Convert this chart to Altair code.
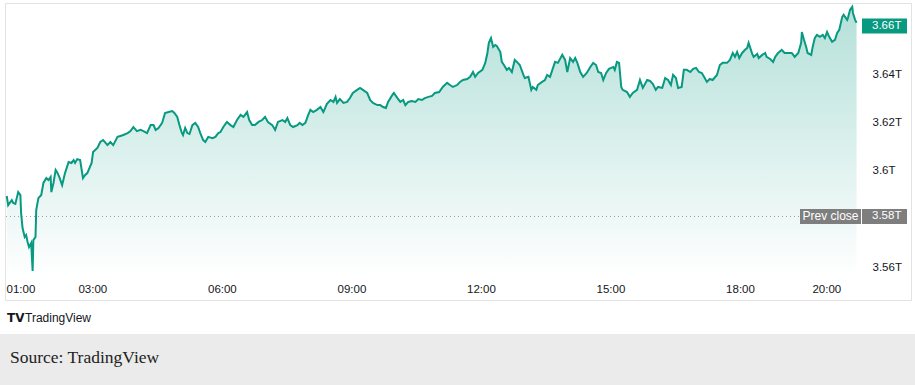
import altair as alt
import pandas as pd

minute_of_day = [
    61, 63, 68, 70, 73, 77, 80, 81, 83, 86, 88, 90, 92, 95, 97, 98, 101, 102, 105, 109,
    112, 116, 119, 122, 123, 126, 129, 131, 134, 138, 142, 147, 151, 154, 156, 159, 163, 167, 170, 173,
    179, 181, 187, 191, 195, 201,
    205, 209, 215, 219, 223, 229, 233, 237, 242, 247, 251, 256, 261, 265, 268, 272, 277, 281, 286, 291,
    294, 298, 301, 304, 306, 309, 312, 315, 319, 323, 327, 330, 334, 337, 341, 347, 351,
    355, 358, 362, 367, 372, 376, 381, 386, 390, 395, 398, 402, 406, 411, 416, 420, 424, 430, 434, 438,
    444, 448, 451, 455, 459, 465, 468, 472, 476, 480, 483, 487, 492, 497, 501, 506,
    511, 515, 518, 520, 524, 529, 534, 538, 542, 548, 552, 556, 562, 566, 570, 576, 580, 584, 588, 591,
    597, 599, 604, 608, 612, 615, 619, 624, 629, 633, 638, 642, 647, 652, 656,
    662, 667, 673, 677, 681, 687, 691, 695, 701, 705, 709, 712, 716, 722, 726, 729, 731, 734, 737, 740,
    742, 747, 749, 752, 756, 759, 763, 767, 770, 774, 779, 781, 786, 790, 792, 797, 799, 805, 809,
    812, 816, 823, 827, 833, 837, 840, 844, 848, 851, 854, 858, 862, 867, 872, 876, 880, 883, 887, 890,
    894, 898, 904, 906, 909, 912, 915, 917, 923, 927, 931, 937, 941, 945, 951, 955,
    959, 963, 966, 972, 976, 980, 984, 987, 991, 994, 999, 1002, 1006, 1011, 1015, 1019, 1023, 1027, 1031, 1034,
    1038, 1042, 1048, 1052, 1056, 1062, 1066, 1070, 1073, 1076, 1079, 1083, 1087, 1090, 1092, 1097, 1099, 1104, 1106,
    1111, 1115, 1117, 1122, 1126, 1129, 1133, 1138, 1142, 1147, 1152, 1156, 1161, 1165, 1166, 1169, 1172, 1174, 1179, 1181,
    1184, 1187, 1191, 1195, 1198, 1201, 1204, 1208, 1212, 1215, 1218, 1222, 1224, 1229, 1230, 1233, 1236, 1237, 1240, 1242,
]

# market value in trillions
value_t = [
    3.5895, 3.5857, 3.5878, 3.5866, 3.5862, 3.5911, 3.5899, 3.5824, 3.5762, 3.5725,
    3.5733, 3.5704, 3.5683, 3.5700, 3.5584, 3.5712, 3.5725, 3.5837, 3.5886, 3.5899,
    3.5949, 3.5969, 3.5961, 3.5974, 3.5911, 3.5949, 3.6003, 3.5994, 3.5974, 3.5940,
    3.5990, 3.6036, 3.6032, 3.6044, 3.6032, 3.6048, 3.6044, 3.5969, 3.5982, 3.5990,
    3.6032, 3.6077, 3.6094, 3.6119, 3.6127, 3.6106,
    3.6119, 3.6106, 3.6140, 3.6144, 3.6148, 3.6156, 3.6164, 3.6181, 3.6164, 3.6169,
    3.6164, 3.6156, 3.6189, 3.6189, 3.6169, 3.6177, 3.6198, 3.6239, 3.6243, 3.6247,
    3.6239, 3.6223, 3.6189, 3.6160, 3.6148, 3.6177, 3.6156, 3.6152, 3.6189, 3.6198,
    3.6181, 3.6156, 3.6127, 3.6119, 3.6140, 3.6135, 3.6140,
    3.6156, 3.6160, 3.6181, 3.6202, 3.6189, 3.6181, 3.6210, 3.6231, 3.6223, 3.6243,
    3.6210, 3.6189, 3.6189, 3.6202, 3.6210, 3.6223, 3.6202, 3.6189, 3.6169, 3.6202,
    3.6210, 3.6202, 3.6218, 3.6189, 3.6181, 3.6189, 3.6198, 3.6189, 3.6198, 3.6231,
    3.6252, 3.6243, 3.6252, 3.6264, 3.6243, 3.6277,
    3.6293, 3.6285, 3.6306, 3.6281, 3.6297, 3.6281, 3.6285, 3.6301, 3.6322, 3.6335,
    3.6343, 3.6335, 3.6322, 3.6293, 3.6281, 3.6272, 3.6272, 3.6264, 3.6260, 3.6285,
    3.6314, 3.6322, 3.6301, 3.6285, 3.6293, 3.6272, 3.6285, 3.6289, 3.6285, 3.6297,
    3.6293, 3.6301, 3.6306, 3.6310, 3.6322,
    3.6326, 3.6347, 3.6364, 3.6355, 3.6347, 3.6355, 3.6368, 3.6376, 3.6380, 3.6389,
    3.6409, 3.6389, 3.6405, 3.6418, 3.6447, 3.6488, 3.6530, 3.6550, 3.6513, 3.6521,
    3.6517, 3.6492, 3.6451, 3.6438, 3.6418, 3.6426, 3.6409, 3.6459, 3.6451, 3.6438,
    3.6397, 3.6384, 3.6389, 3.6335, 3.6347, 3.6335, 3.6355, 3.6368, 3.6376,
    3.6397, 3.6389, 3.6451, 3.6447, 3.6480, 3.6459, 3.6409, 3.6467, 3.6451, 3.6467,
    3.6447, 3.6409, 3.6389, 3.6405, 3.6430, 3.6447, 3.6438, 3.6409, 3.6405, 3.6376,
    3.6405, 3.6422, 3.6430, 3.6418, 3.6451, 3.6447, 3.6347, 3.6335, 3.6326, 3.6306,
    3.6322, 3.6335, 3.6376, 3.6343, 3.6376, 3.6372,
    3.6359, 3.6335, 3.6347, 3.6343, 3.6384, 3.6376, 3.6355, 3.6397, 3.6384, 3.6343,
    3.6347, 3.6418, 3.6418, 3.6409, 3.6422, 3.6426, 3.6409, 3.6405, 3.6384, 3.6368,
    3.6380, 3.6376, 3.6397, 3.6438, 3.6447, 3.6447, 3.6459, 3.6488, 3.6472, 3.6492,
    3.6467, 3.6488, 3.6501, 3.6509, 3.6530, 3.6484, 3.6472, 3.6484, 3.6467,
    3.6480, 3.6488, 3.6472, 3.6463, 3.6451, 3.6472, 3.6488, 3.6501, 3.6488, 3.6488,
    3.6488, 3.6472, 3.6488, 3.6530, 3.6575, 3.6542, 3.6513, 3.6488, 3.6480, 3.6513,
    3.6550, 3.6563, 3.6555, 3.6563, 3.6550, 3.6575, 3.6555, 3.6534, 3.6542, 3.6571,
    3.6584, 3.6637, 3.6646, 3.6625, 3.6633, 3.6667, 3.6679, 3.6654, 3.6625, 3.6613,
]

prev_close = 3.581
x_tick_minutes = [60, 180, 360, 540, 720, 900, 1080, 1200]
y_tick_values = [3.56, 3.60, 3.62, 3.64]
x_domain = [60, 1244]
y_domain = [3.5555, 3.6691]

last_value = value_t[-1]
last_label = f"{last_value:.2f}T"
prev_label = f"{prev_close:.2f}T"

GREEN = "#089981"
GRAY_BOX = "#7e7e7e"
TXT = "#131722"
FONT = "Liberation Sans"

df = pd.DataFrame({"m": minute_of_day, "v": value_t})
one = pd.DataFrame({"k": [0]})

xs = alt.Scale(domain=x_domain, nice=False, zero=False)
ys = alt.Scale(domain=y_domain, nice=False, zero=False)

x_axis = alt.Axis(
    values=x_tick_minutes,
    labelExpr="(floor(datum.value/60) < 10 ? '0' : '') + floor(datum.value/60) + ':00'",
    ticks=False, domain=False, grid=False, title=None,
    labelFont=FONT, labelFontSize=11.5, labelColor=TXT, labelPadding=5,
    labelFlush=True,
)
y_axis = alt.Axis(
    orient="right", values=y_tick_values,
    labelExpr="format(datum.value, '.2~f') + 'T'",
    ticks=False, domain=False, grid=False, title=None,
    labelFont=FONT, labelFontSize=11.5, labelColor=TXT, labelPadding=14,
    labelAlign="left",
)

# decorative frame and footer
frame = alt.Chart(one).mark_rect(fillOpacity=0, stroke="#e3e3e3", strokeWidth=1).encode(
    x=alt.value(-0.5), x2=alt.value(905.5), y=alt.value(-0.5), y2=alt.value(296.5)
)
footer = alt.Chart(one).mark_rect(color="#ebebeb").encode(
    x=alt.value(-6), x2=alt.value(909), y=alt.value(330), y2=alt.value(381)
)

area = alt.Chart(df).mark_area(
    color=alt.Gradient(
        gradient="linear",
        stops=[
            alt.GradientStop(color="rgba(8,153,129,0.30)", offset=0),
            alt.GradientStop(color="rgba(8,153,129,0.0)", offset=1),
        ],
        x1=0, x2=0, y1=0, y2=1,
    )
).encode(
    x=alt.X("m:Q", scale=xs, axis=x_axis),
    y=alt.Y("v:Q", scale=ys, axis=y_axis),
    y2=alt.datum(y_domain[0]),
)

line = alt.Chart(df).mark_line(color=GREEN, strokeWidth=2).encode(
    x=alt.X("m:Q", scale=xs), y=alt.Y("v:Q", scale=ys)
)

prev_rule = alt.Chart(one).mark_rule(color="#9a9ea8", strokeDash=[1, 3], strokeWidth=1).encode(
    x=alt.value(0), x2=alt.value(794), y=alt.datum(prev_close)
)

prev_box1 = alt.Chart(one).mark_rect(color=GRAY_BOX, yOffset=-7.5, y2Offset=7.5).encode(
    x=alt.value(794), x2=alt.value(855), y=alt.datum(prev_close), y2=alt.datum(prev_close)
)
prev_box2 = alt.Chart(one).mark_rect(color=GRAY_BOX, yOffset=-7.5, y2Offset=7.5).encode(
    x=alt.value(856), x2=alt.value(901), y=alt.datum(prev_close), y2=alt.datum(prev_close)
)
prev_txt1 = alt.Chart(one).mark_text(
    color="white", font=FONT, fontSize=12, align="center", baseline="middle"
).encode(x=alt.value(824.5), y=alt.datum(prev_close), text=alt.value("Prev close"))
prev_txt2 = alt.Chart(one).mark_text(
    color="white", font=FONT, fontSize=11.5, align="left", baseline="middle"
).encode(x=alt.value(866), y=alt.datum(prev_close), text=alt.value(prev_label))

cur_box = alt.Chart(one).mark_rect(color=GREEN, yOffset=-7.5, y2Offset=7.5).encode(
    x=alt.value(856), x2=alt.value(901), y=alt.datum(3.66), y2=alt.datum(3.66)
)
cur_txt = alt.Chart(one).mark_text(
    color="white", font=FONT, fontSize=11.5, align="left", baseline="middle"
).encode(x=alt.value(866), y=alt.datum(3.66), text=alt.value(last_label))

logo_icon = alt.Chart(one).mark_text(
    color="#131722", font="DejaVu Sans", fontSize=12, fontWeight="bold", align="left", baseline="middle"
).encode(x=alt.value(1), y=alt.value(314), text=alt.value("TV"))
logo_txt = alt.Chart(one).mark_text(
    color="#131722", font=FONT, fontSize=12, align="left", baseline="middle"
).encode(x=alt.value(19), y=alt.value(314), text=alt.value("TradingView"))

source_txt = alt.Chart(one).mark_text(
    color="#222222", font="Liberation Serif", fontSize=17.5, align="left", baseline="middle"
).encode(x=alt.value(4), y=alt.value(354), text=alt.value("Source: TradingView"))

chart = alt.layer(
    footer, frame, area, line, prev_rule,
    prev_box1, prev_box2, prev_txt1, prev_txt2,
    cur_box, cur_txt, logo_icon, logo_txt, source_txt,
).properties(
    width=852, height=274,
    autosize=alt.AutoSizeParams(type="none"),
    padding={"left": 6, "top": 4, "right": 57, "bottom": 107},
    background="white",
).configure_view(stroke=None)

chart.save("out.html", embed_options={"renderer": "svg", "actions": False})
